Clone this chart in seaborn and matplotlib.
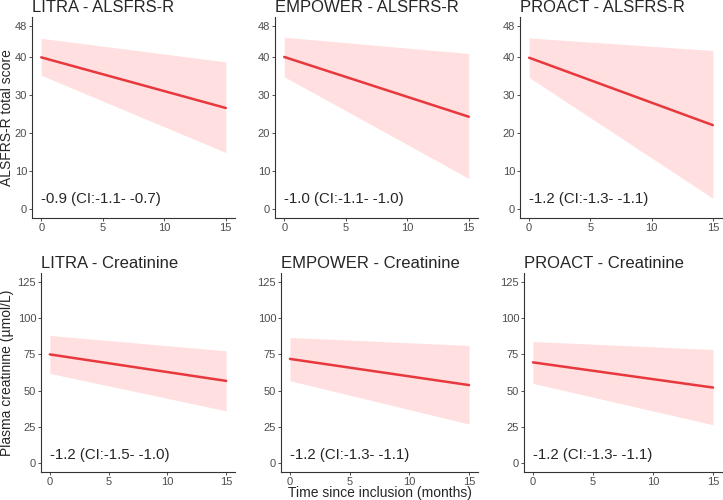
import seaborn as sns
import matplotlib.pyplot as plt
import pandas as pd
import numpy as np

# data (values at month 0 and month 15)
studies = ["LITRA", "EMPOWER", "PROACT"]
months = [0, 15]

alsfrs_fit = [[39.8, 26.5], [39.9, 24.2], [39.7, 22.0]]
alsfrs_hi = [[44.8, 38.6], [45.1, 40.8], [44.9, 41.6]]
alsfrs_lo = [[35.1, 14.8], [34.7, 8.0], [34.5, 2.8]]
alsfrs_txt = ["-0.9 (CI:-1.1- -0.7)", "-1.0 (CI:-1.1- -1.0)", "-1.2 (CI:-1.3- -1.1)"]

creat_fit = [[75.0, 56.7], [71.9, 53.8], [69.5, 52.1]]
creat_hi = [[88.1, 77.5], [86.7, 81.2], [83.9, 78.4]]
creat_lo = [[61.9, 36.0], [56.8, 26.9], [55.0, 26.4]]
creat_txt = ["-1.2 (CI:-1.5- -1.0)", "-1.2 (CI:-1.3- -1.1)", "-1.2 (CI:-1.3- -1.1)"]

sns.set_style("ticks")
plt.rcParams['font.family'] = ['Liberation Sans', 'DejaVu Sans']

line_col = "#e8383d"
band_col = "#ffdfdf"
grey = "#4d4d4d"

fig = plt.figure(figsize=(7.23, 5.00), dpi=100)
W, H = 723, 500

def px_axes(l, r, t, b):
    return fig.add_axes([l / W, 1 - b / H, (r - l) / W, (b - t) / H])

rows = [
    dict(name="ALSFRS-R", fit=alsfrs_fit, hi=alsfrs_hi, lo=alsfrs_lo, txt=alsfrs_txt,
         yticks=[0, 10, 20, 30, 40, 48], ylim=(-2.4, 50.4), ty=2.6,
         lefts=[32, 275, 520], top=17, bottom=218, ylab="ALSFRS-R total score"),
    dict(name="Creatinine", fit=creat_fit, hi=creat_hi, lo=creat_lo, txt=creat_txt,
         yticks=[0, 25, 50, 75, 100, 125], ylim=(-6.25, 131.25), ty=5.5,
         lefts=[41, 281, 524], top=273, bottom=472, ylab="Plasma creatinine (\u00b5mol/L)"),
]
rights = [235, 478, 722]

for r in rows:
    for i, study in enumerate(studies):
        ax = px_axes(r["lefts"][i], rights[i], r["top"], r["bottom"])
        df = pd.DataFrame({"month": months, "fit": r["fit"][i],
                           "lo": r["lo"][i], "hi": r["hi"][i]})
        ax.fill_between(df["month"], df["lo"], df["hi"], color=band_col, lw=0)
        sns.lineplot(data=df, x="month", y="fit", ax=ax, color=line_col, lw=1.8)
        ax.set_xlim(-0.75, 15.75)
        ax.set_ylim(*r["ylim"])
        ax.set_xticks([0, 5, 10, 15])
        ax.set_yticks(r["yticks"])
        ax.tick_params(labelsize=8, colors="#333333", length=2.5, width=0.6,
                       labelcolor=grey, pad=1)
        for s in ["left", "bottom"]:
            ax.spines[s].set_color("#333333")
            ax.spines[s].set_linewidth(0.8)
        sns.despine(ax=ax)
        ax.set_xlabel("")
        ax.set_ylabel("")
        ax.set_title(f"{study} - {r['name']}", loc="left", fontsize=12, pad=3.5)
        ax.text(0, r["ty"], r["txt"][i], ha="left", va="center", fontsize=10.8)

    fig.text(7 / W, 1 - ((r["top"] + r["bottom"]) / 2) / H, r["ylab"],
             rotation=90, ha="center", va="center", fontsize=10)

fig.text(379.5 / W, 1 - 493 / H, "Time since inclusion (months)",
         ha="center", va="center", fontsize=10)

fig.savefig("out.png", dpi=100)
